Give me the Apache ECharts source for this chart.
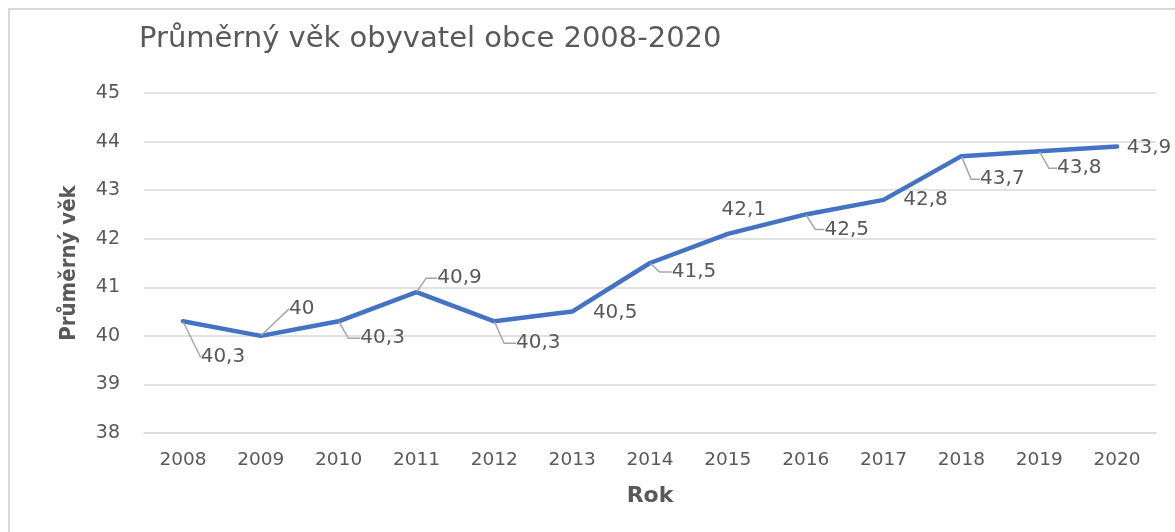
<!DOCTYPE html>
<html>
<head>
<meta charset="utf-8">
<script src="https://cdn.jsdelivr.net/npm/echarts@6/dist/echarts.min.js"></script>
<style>
  html, body { margin: 0; padding: 0; background: #fff; overflow: hidden; width: 1175px; height: 532px; }
  #frame {
    position: absolute; left: 8px; top: 8px; width: 1167px; height: 524px;
    border-left: 2px solid #d9d9d9; border-top: 2px solid #d9d9d9;
  }
  #chart { position: absolute; left: 0; top: 0; width: 1175px; height: 532px; }
</style>
</head>
<body>
<div id="frame"></div>
<div id="chart"></div>
<script>
// data
const years = ['2008', '2009', '2010', '2011', '2012', '2013', '2014',
  '2015', '2016', '2017', '2018', '2019', '2020']
const avgAge = [40.3, 40, 40.3, 40.9, 40.3, 40.5, 41.5, 42.1, 42.5, 42.8, 43.7, 43.8, 43.9]
const yTicks = [38, 39, 40, 41, 42, 43, 44, 45]

// where each label's text centre sits relative to its point, px
const labelShift = [
  [40, 36], [41, -27], [44, 17], [43, -14], [44, 22], [43, 1], [44, 9],
  [16, -24], [41, 15], [42, 0], [41, 23], [40, 17], [32, 1]
]
// leader style per point: 'L' = elbow, 'd' = straight, '' = none
const leaderKind = ['d', 'd', 'L', 'L', 'L', '', 'L', '', 'L', '', 'L', 'L', '']

const textGrey = '#595959'
const gridGrey = '#d9d9d9'
const labelGap = 10   // blank space between leader end and text

const chart = echarts.init(document.getElementById('chart'))

const seriesData = avgAge.map((v, i) => {
  const kind = leaderKind[i]
  return {
    value: v,
    label: { padding: [0, 0, 0, kind === 'L' ? labelGap : 0] },
    labelLine: {
      show: kind !== '',
      // elbow: run straight down/up from the point, then across to the text
      length2: kind === 'L' ? Math.max(labelShift[i][0] - 22 - labelGap, 0) : 0
    }
  }
})

chart.setOption({
  animation: false,
  title: {
    text: 'Průměrný věk obyvatel obce 2008-2020',
    left: 139,
    top: 25,
    padding: 0,
    textStyle: {
      color: textGrey,
      fontFamily: 'DejaVu Sans',
      fontSize: 29,
      fontWeight: 'normal'
    }
  },
  grid: { left: 144, right: 19, top: 93, bottom: 99 },
  xAxis: {
    type: 'category',
    data: years,
    boundaryGap: true,
    name: 'Rok',
    nameLocation: 'middle',
    nameGap: 52,
    nameTextStyle: {
      color: textGrey,
      fontFamily: 'DejaVu Sans',
      fontWeight: 'bold',
      fontSize: 22
    },
    axisLine: { lineStyle: { color: gridGrey, width: 1.5 } },
    axisTick: { show: false },
    axisLabel: {
      color: textGrey,
      fontFamily: 'DejaVu Sans',
      fontSize: 18.5,
      margin: 18
    }
  },
  yAxis: {
    type: 'value',
    min: yTicks[0],
    max: yTicks[yTicks.length - 1],
    interval: 1,
    name: 'Průměrný věk',
    nameLocation: 'middle',
    nameGap: 64,
    nameTextStyle: {
      color: textGrey,
      fontFamily: 'DejaVu Sans Condensed',
      fontWeight: 'bold',
      fontSize: 22
    },
    axisLine: { show: false },
    axisTick: { show: false },
    axisLabel: {
      color: textGrey,
      fontFamily: 'DejaVu Sans',
      fontSize: 19,
      margin: 24
    },
    splitLine: { lineStyle: { color: gridGrey, width: 1.5 } }
  },
  series: [{
    type: 'line',
    data: seriesData,
    symbol: 'circle',
    symbolSize: 1,
    itemStyle: { color: '#4472c4' },
    lineStyle: { color: '#4472c4', width: 4.5, cap: 'round', join: 'round' },
    label: {
      show: true,
      position: 'inside',
      formatter: (p) => String(p.value).replace('.', ','),
      color: textGrey,
      fontFamily: 'DejaVu Sans',
      fontSize: 20
    },
    labelLine: {
      show: true,
      minTurnAngle: 90,
      lineStyle: { color: '#a6a6a6', width: 1.5 }
    },
    labelLayout: (params) => {
      const i = params.dataIndex
      const s = labelShift[i]
      // padding widens the box on the left, so shift back by half of it
      const pad = leaderKind[i] === 'L' ? labelGap / 2 : 0
      return { dx: s[0] - pad, dy: s[1] }
    }
  }]
})
</script>
</body>
</html>
